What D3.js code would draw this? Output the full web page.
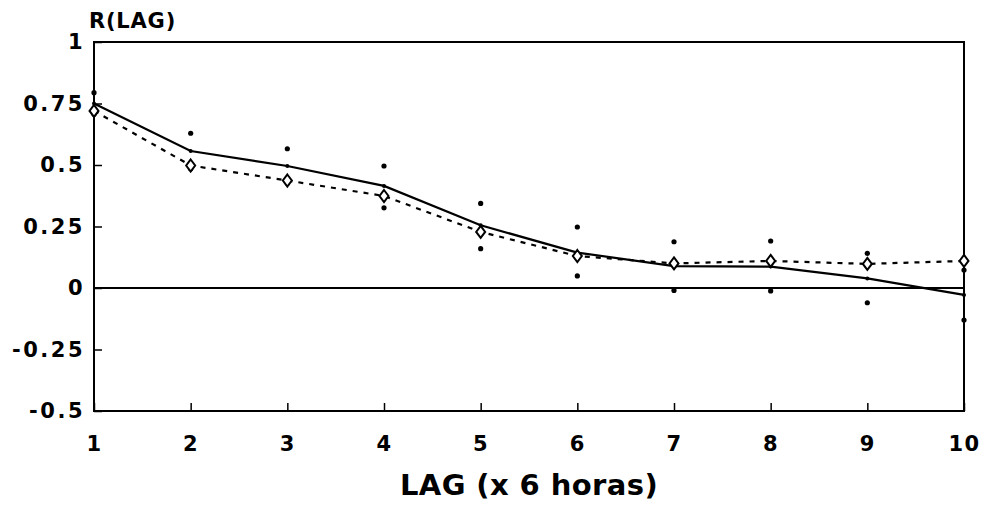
<!DOCTYPE html>
<html>
<head>
<meta charset="utf-8">
<script src="https://cdn.jsdelivr.net/npm/d3@7"></script>
<style>
  body { margin: 0; background: #fff; }
  text { font-family: "DejaVu Sans", sans-serif; font-weight: bold; fill: #000; }
</style>
</head>
<body>
<div id="chart"></div>
<script>
// lag steps (x 6 hours)
var lags = [1, 2, 3, 4, 5, 6, 7, 8, 9, 10];
// solid line - observed autocorrelation
var rSolid = [0.75, 0.557, 0.496, 0.415, 0.255, 0.144, 0.089, 0.087, 0.039, -0.028];
// dashed line with diamonds
var rDashed = [0.72, 0.498, 0.437, 0.374, 0.228, 0.13, 0.10, 0.11, 0.098, 0.11];
// upper / lower dots around the solid line
var rUpper = [0.794, 0.629, 0.566, 0.496, 0.344, 0.248, 0.188, 0.191, 0.141, 0.073];
var rLower = [0.706, 0.485, 0.426, 0.326, 0.16, 0.049, -0.01, -0.012, -0.06, -0.13];
var yTicks = [-0.5, -0.25, 0, 0.25, 0.5, 0.75, 1];

var width = 987, height = 506;
var margin = {left: 94, right: 23, top: 42, bottom: 95};

var svg = d3.select('#chart').append('svg')
    .attr('width', width)
    .attr('height', height);

var x = d3.scaleLinear().domain([1, 10]).range([margin.left, width - margin.right]);
var y = d3.scaleLinear().domain([-0.5, 1]).range([height - margin.bottom, margin.top]);

// axes, ticks pointing inwards
var yAxis = d3.axisLeft(y)
    .tickValues(yTicks)
    .tickFormat(function (d) { return String(d); })
    .tickSizeInner(-8)
    .tickSizeOuter(0)
    .tickPadding(9);

var xAxis = d3.axisBottom(x)
    .tickValues(lags)
    .tickFormat(d3.format('d'))
    .tickSizeInner(-8)
    .tickSizeOuter(0)
    .tickPadding(25);

var gy = svg.append('g')
    .attr('transform', 'translate(' + margin.left + ',0)')
    .call(yAxis);
var gx = svg.append('g')
    .attr('transform', 'translate(0,' + (height - margin.bottom) + ')')
    .call(xAxis);

svg.selectAll('.tick text')
    .attr('fill', '#000')
    .style('font-size', '21px');
gy.selectAll('.tick text').style('letter-spacing', '2.5px');
gx.selectAll('.tick text').style('letter-spacing', '1.5px');
svg.selectAll('.tick line')
    .attr('stroke', '#000')
    .attr('stroke-width', 1.5);
svg.selectAll('.domain').remove();

// frame
svg.append('rect')
    .attr('x', x(1))
    .attr('y', y(1))
    .attr('width', x(10) - x(1))
    .attr('height', y(-0.5) - y(1))
    .attr('fill', 'none')
    .attr('stroke', '#000')
    .attr('stroke-width', 2);

// zero line
svg.append('line')
    .attr('x1', x(1)).attr('x2', x(10))
    .attr('y1', y(0)).attr('y2', y(0))
    .attr('stroke', '#000')
    .attr('stroke-width', 2);

var line = d3.line()
    .x(function (d, i) { return x(lags[i]); })
    .y(function (d) { return y(d); });

svg.append('path')
    .datum(rSolid)
    .attr('d', line)
    .attr('fill', 'none')
    .attr('stroke', '#000')
    .attr('stroke-width', 2.2);

svg.append('path')
    .datum(rDashed)
    .attr('d', line)
    .attr('fill', 'none')
    .attr('stroke', '#000')
    .attr('stroke-width', 2.2)
    .attr('stroke-dasharray', '5,6');

// dots (bounds + solid vertices)
function dots(values, r) {
  svg.append('g').selectAll('circle')
      .data(values)
      .enter()
      .append('circle')
      .attr('cx', function (d, i) { return x(lags[i]); })
      .attr('cy', function (d) { return y(d); })
      .attr('r', r)
      .attr('fill', '#000');
}
dots(rUpper, 2.6);
dots(rLower, 2.6);
dots(rSolid, 2);

// open diamonds
svg.append('g').selectAll('path')
    .data(rDashed)
    .enter()
    .append('path')
    .attr('transform', function (d, i) {
      return 'translate(' + x(lags[i]) + ',' + y(d) + ')';
    })
    .attr('d', 'M0,-6L4.5,0L0,6L-4.5,0Z')
    .attr('fill', '#fff')
    .attr('stroke', '#000')
    .attr('stroke-width', 2);

// titles
svg.append('text')
    .attr('x', 89)
    .attr('y', 28)
    .style('font-size', '21px')
    .style('letter-spacing', '0.8px')
    .text('R(LAG)');

svg.append('text')
    .attr('x', (x(1) + x(10)) / 2)
    .attr('y', 495)
    .attr('text-anchor', 'middle')
    .style('font-size', '29px')
    .style('letter-spacing', '0.4px')
    .text('LAG (x 6 horas)');
</script>
</body>
</html>
